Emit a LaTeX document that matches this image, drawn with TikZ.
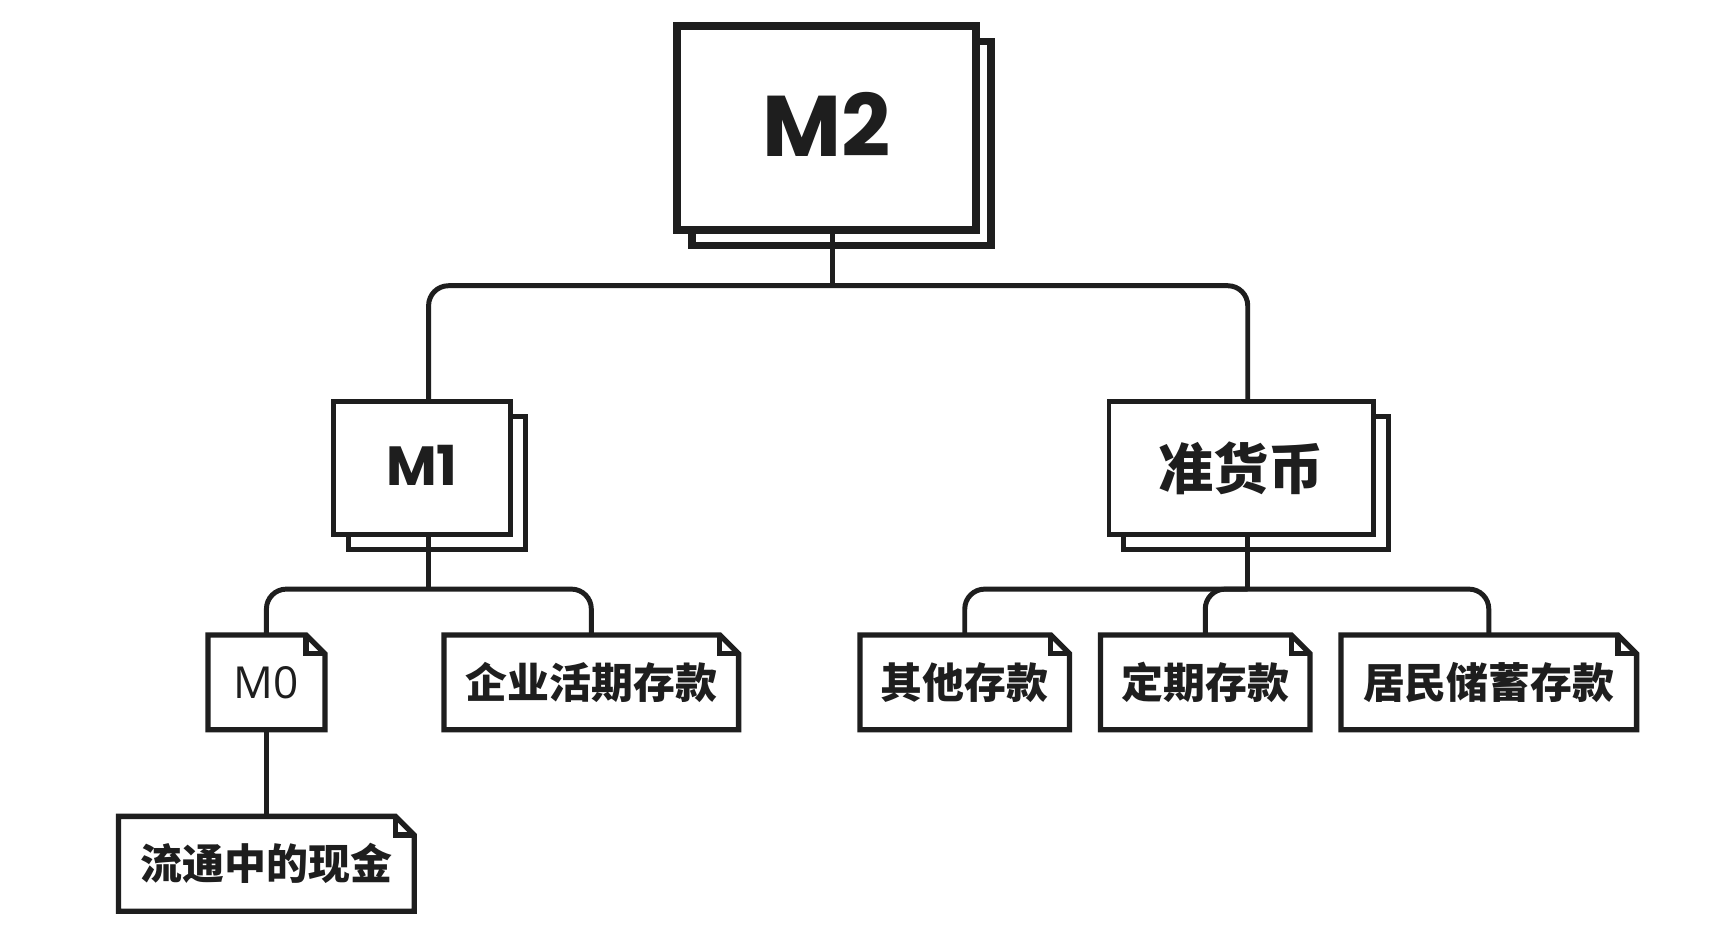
\documentclass[tikz,border=0pt]{standalone}
\usepackage{fontspec}
\newfontfamily\cjk{Noto Sans CJK SC}
\newfontfamily\pop{Poppins}
\newfontfamily\osans{Open Sans}
\usetikzlibrary{calc}
\pgfdeclarelayer{bg}
\pgfdeclarelayer{background}
\pgfsetlayers{bg,background,main}
\definecolor{ink}{HTML}{1E1E1E}
\newcommand\dogear[1]{%
  \draw[noteline] (#1.north west) -- ($(#1.north east)+(-17,0)$) -- ($(#1.north east)+(0,17)$) -- (#1.south east) -- (#1.south west) -- cycle;
  \draw[noteline] ($(#1.north east)+(-17,0)$) -- ($(#1.north east)+(-17,17)$) -- ($(#1.north east)+(0,17)$);
}
\newcommand\backbox[3]{%
  \begin{pgfonlayer}{background}
  \draw[backline,line width=#2] ($(#1.north west)+(#3,#3)$) rectangle ($(#1.south east)+(#3,#3)$);
  \end{pgfonlayer}
}
\begin{document}
\begin{tikzpicture}[x=1pt,y=-1pt,
  stackbox/.style={draw=ink, fill=white, line width=4.5pt, inner sep=0pt, outer sep=0pt, text=ink},
  backline/.style={draw=ink, fill=white},
  note/.style={draw=none, inner sep=0pt, outer sep=0pt, minimum height=86pt, text=ink,
    font=\cjk\bfseries\fontsize{38}{40}\selectfont},
  noteline/.style={draw=ink, fill=none, line width=4.8pt, line join=miter},
  conn/.style={draw=ink, line width=4.5pt, rounded corners=18pt}]
\begin{pgfonlayer}{bg}
\fill[white] (0,0) rectangle (1560,848);
\end{pgfonlayer}
\useasboundingbox (0,0) rectangle (1560,848);

% stacked boxes
\node[stackbox, line width=7pt, minimum width=271pt, minimum height=185pt,
  font=\pop\bfseries\fontsize{78}{80}\selectfont] (m2) at (749,116) {\raisebox{6pt}{M2}};
\backbox{m2}{7pt}{14}
\node[stackbox, minimum width=160.5pt, minimum height=120.5pt,
  font=\pop\bfseries\fontsize{50}{52}\selectfont] (m1) at (382.5,424.5) {\raisebox{5pt}{M1}};
\backbox{m1}{4.5pt}{13.5}
\node[stackbox, minimum width=239.5pt, minimum height=120.5pt,
  font=\cjk\bfseries\fontsize{50}{52}\selectfont] (zhb) at (1125,424.5) {\raisebox{5pt}{准货币}};
\backbox{zhb}{4.5pt}{13.5}

% notes
\node[note, minimum width=106pt, font=\osans\fontsize{40}{42}\selectfont] (m0) at (241.5,618.5) {M0};
\dogear{m0}
\node[note, minimum width=267pt] (qiye) at (536,618.5) {企业活期存款};
\dogear{qiye}
\node[note, minimum width=268pt] (liutong) at (241.5,783) {流通中的现金};
\dogear{liutong}
\node[note, minimum width=190pt] (qita) at (874.5,618.5) {其他存款};
\dogear{qita}
\node[note, minimum width=190pt] (dingqi) at (1092.5,618.5) {定期存款};
\dogear{dingqi}
\node[note, minimum width=268pt] (jumin) at (1349.5,618.5) {居民储蓄存款};
\dogear{jumin}

% connectors
\coordinate (b1) at (755,259);
\coordinate (b2) at (388.5,534);
\coordinate (b3) at (1131,534);
\draw[conn] ($(m2.south)+(6,0)$) -- (b1);
\draw[conn] ($(m1.north)+(6,0)$) |- (b1) -| ($(zhb.north)+(6,0)$);
\draw[conn] ($(m1.south)+(6,0)$) -- (b2);
\draw[conn] (m0.north) |- (b2) -| (qiye.north);
\draw[conn] (m0.south) -- (liutong.north);
\draw[conn] ($(zhb.south)+(6,0)$) -- (b3);
\draw[conn] (qita.north) |- (b3) -| (jumin.north);
\draw[conn] (dingqi.north) |- (b3);
\end{tikzpicture}
\end{document}
